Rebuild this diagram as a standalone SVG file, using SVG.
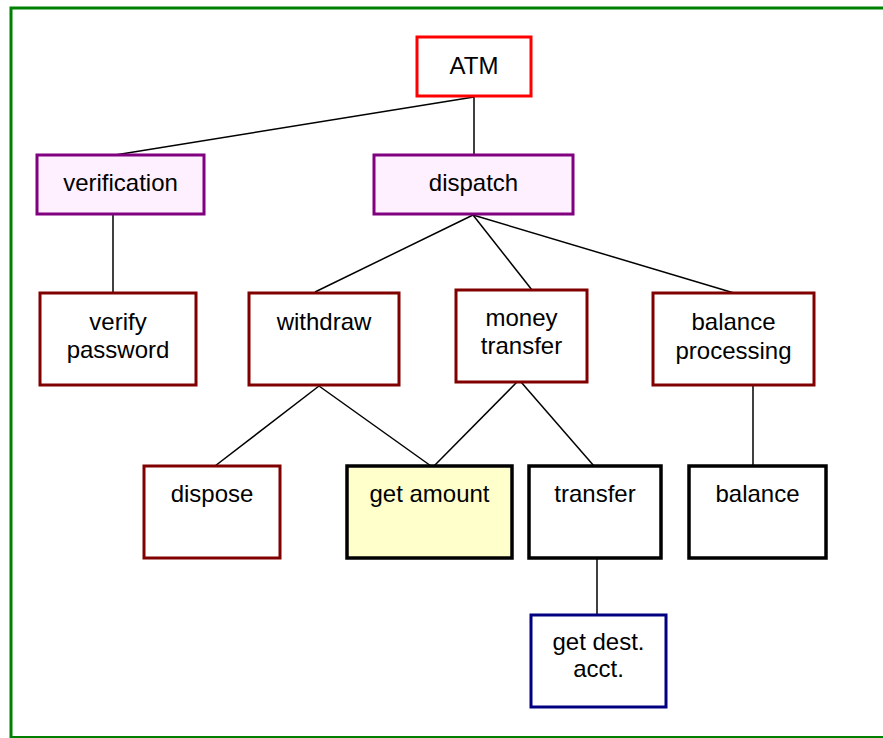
<svg xmlns="http://www.w3.org/2000/svg" width="883" height="738" viewBox="0 0 883 738">
  <style>
    text { font-family: "Liberation Sans", Arial, sans-serif; font-size: 24px; fill: #000; text-anchor: middle; }
    .box { stroke-width: 3; }
    .root { fill: #fff; stroke: #ff0000; }
    .mid { fill: #fff0ff; stroke: #800080; }
    .task { fill: #fff; stroke: #800000; }
    .leaf { fill: #fff; stroke: #000; stroke-width: 3.5; }
    .shared { fill: #ffffcc; stroke: #000; stroke-width: 3.5; }
    .sub { fill: #fff; stroke: #000080; }
    #connectors line { stroke: #000; stroke-width: 1.5; }
  </style>

  <!-- frame -->
  <rect x="11" y="8" width="890" height="729.5" fill="#fff" stroke="#008000" stroke-width="3"/>

  <g id="connectors">
    <line x1="474" y1="97" x2="115" y2="155"/>
    <line x1="474" y1="97" x2="474" y2="155"/>
    <line x1="113" y1="215" x2="113" y2="293"/>
    <line x1="473" y1="215" x2="315" y2="292"/>
    <line x1="473" y1="215" x2="532" y2="290"/>
    <line x1="473" y1="215" x2="734" y2="293"/>
    <line x1="319" y1="386" x2="215" y2="466"/>
    <line x1="319" y1="386" x2="431" y2="466"/>
    <line x1="517" y1="382" x2="434" y2="466"/>
    <line x1="521" y1="382" x2="594" y2="466"/>
    <line x1="753" y1="386" x2="753" y2="466"/>
    <line x1="597" y1="559" x2="597" y2="615"/>
  </g>

  <g id="atm">
    <rect class="box root" x="417" y="37" width="114" height="59"/>
    <text x="474" y="74">ATM</text>
  </g>

  <g id="verification">
    <rect class="box mid" x="37" y="155" width="167" height="59"/>
    <text x="120.5" y="191">verification</text>
  </g>

  <g id="dispatch">
    <rect class="box mid" x="374" y="155" width="199" height="59"/>
    <text x="473.5" y="191">dispatch</text>
  </g>

  <g id="verify-password">
    <rect class="box task" x="40" y="293" width="156" height="92"/>
    <text x="118" y="329.5">verify</text>
    <text x="118" y="357.5">password</text>
  </g>

  <g id="withdraw">
    <rect class="box task" x="249" y="293" width="150" height="92"/>
    <text x="324" y="330">withdraw</text>
  </g>

  <g id="money-transfer">
    <rect class="box task" x="456" y="290" width="131" height="92"/>
    <text x="521.5" y="326">money</text>
    <text x="521.5" y="353.5">transfer</text>
  </g>

  <g id="balance-processing">
    <rect class="box task" x="653" y="293" width="161" height="92"/>
    <text x="733.5" y="329.5">balance</text>
    <text x="733.5" y="359">processing</text>
  </g>

  <g id="dispose">
    <rect class="box task" x="144" y="466" width="136" height="92"/>
    <text x="212" y="502">dispose</text>
  </g>

  <g id="get-amount">
    <rect class="box shared" x="347" y="466" width="165" height="92"/>
    <text x="429.5" y="502">get amount</text>
  </g>

  <g id="transfer">
    <rect class="box leaf" x="529" y="466" width="132" height="92"/>
    <text x="595" y="502">transfer</text>
  </g>

  <g id="balance">
    <rect class="box leaf" x="689" y="466" width="137" height="92"/>
    <text x="757.5" y="502">balance</text>
  </g>

  <g id="get-dest-acct">
    <rect class="box sub" x="531" y="615" width="135" height="92"/>
    <text x="598.5" y="650">get dest.</text>
    <text x="598.5" y="677">acct.</text>
  </g>
</svg>
